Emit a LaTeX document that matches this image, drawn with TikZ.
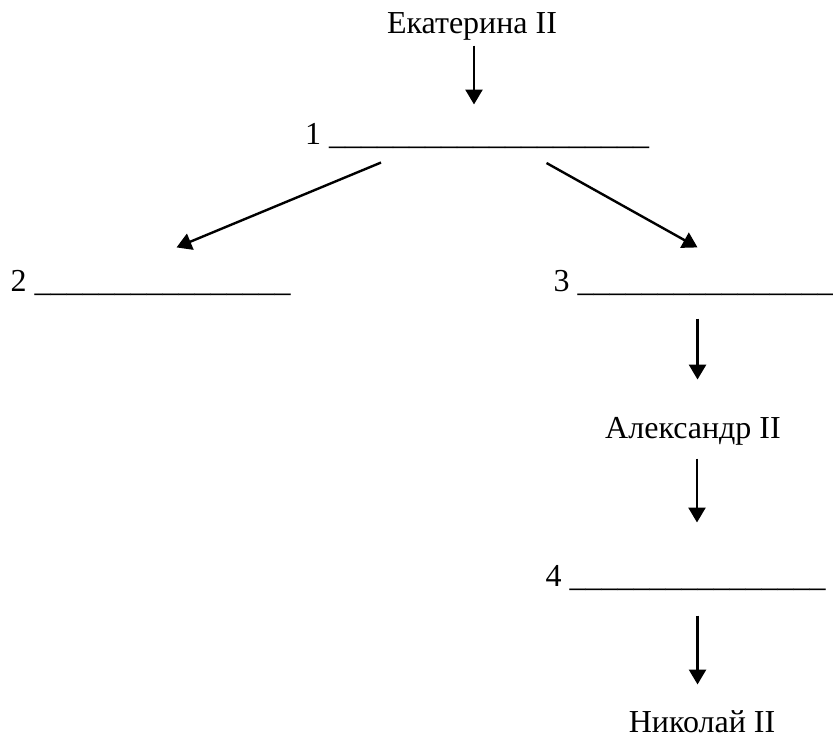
\documentclass[tikz,border=0pt]{standalone}
\usepackage{fontspec}
\setmainfont{Liberation Serif}
\usetikzlibrary{arrows.meta,calc}

\begin{document}
\begin{tikzpicture}[x=0.375pt,y=-0.375pt,
    font=\fontsize{12}{14}\selectfont,
    lbl/.style={inner sep=0pt,text height=8pt,text depth=3pt},
    arr/.style={line width=0.9pt,-{Triangle[length=5.6pt,width=6.4pt]}}]
  \useasboundingbox (0,0) rectangle (833,740);
  % names
  \node[lbl,anchor=base] (ekat) at (472,34) {Екатерина II};
  \node[lbl,anchor=base west] (l1) at (304.5,145) {1 \_\_\_\_\_\_\_\_\_\_\_\_\_\_\_\_\_\_\_\_};
  \node[lbl,anchor=base west] (l2) at (10,292) {2 \_\_\_\_\_\_\_\_\_\_\_\_\_\_\_\_};
  \node[lbl,anchor=base west] (l3) at (553,292) {3 \_\_\_\_\_\_\_\_\_\_\_\_\_\_\_\_};
  \node[lbl,anchor=base] (alex) at (693,439) {Александр II};
  \node[lbl,anchor=base west] (l4) at (545,587) {4 \_\_\_\_\_\_\_\_\_\_\_\_\_\_\_\_};
  \node[lbl,anchor=base] (nik) at (702,733) {Николай II};
  % arrows
  \draw[arr,shorten >=7pt] ($(ekat.south)+(2,3)$) coordinate (s1) -- (s1 |- l1.north);
  \draw[arr] ($(l1.south)+(-96,9)$) -- ($(l2.north)+(26,-22.7)$);
  \draw[arr] ($(l1.south)+(69.5,9.5)$) -- ($(l3.north)+(4,-22.7)$);
  \draw[arr,shorten >=14.1pt] ($(l3.south)+(4,18)$) coordinate (s3) -- (s3 |- alex.north);
  \draw[arr,shorten >=16pt] ($(alex.south)+(4,11)$) coordinate (s4) -- (s4 |- l4.north);
  \draw[arr,shorten >=10pt] ($(l4.south)+(12,20)$) coordinate (s5) -- (s5 |- nik.north);
\end{tikzpicture}
\end{document}
